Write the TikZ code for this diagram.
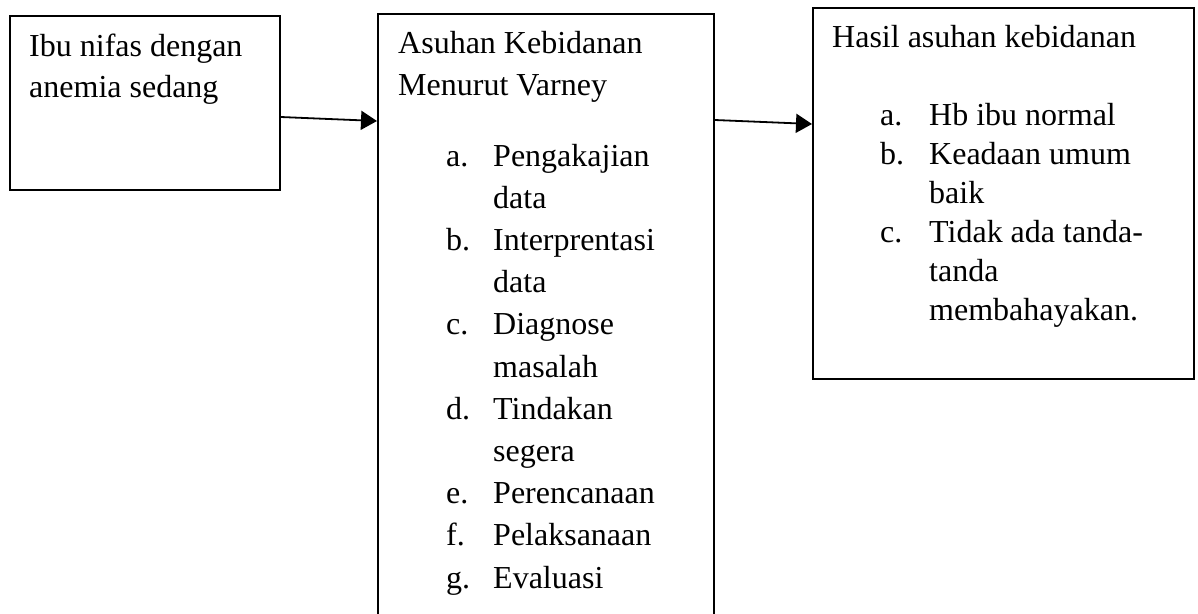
\documentclass[tikz,border=0pt]{standalone}
\usepackage{fontspec}
\setmainfont{Liberation Serif}
\usetikzlibrary{arrows.meta}
\tikzset{
  box/.style={draw=black, line width=1.8pt, rectangle, inner sep=0pt, anchor=north west},
  txt/.style={anchor=base west, inner sep=0pt, font=\fontsize{32}{40}\selectfont},
  conn/.style={line width=1.8pt, -{Triangle[length=16pt,width=19pt]}}
}
\begin{document}
\begin{tikzpicture}[x=1pt,y=-1pt]
\useasboundingbox (0,0) rectangle (1198,613);
% boxes
\node[box, minimum width=270pt, minimum height=174pt] (b1) at (9,15) {};
\node[box, minimum width=336pt, minimum height=640pt] (b2) at (377,13) {};
\node[box, minimum width=381pt, minimum height=371pt] (b3) at (812,7) {};
% box 1 text
\node[txt] (t1a) at (29,56) {Ibu nifas dengan};
\node[txt] (t1b) at (29,97) {anemia sedang};
% box 2 text
\node[txt] (t2a) at (398,53) {Asuhan Kebidanan};
\node[txt] (t2b) at (398,95) {Menurut Varney};
\node[txt] (l2a) at (446,166) {a.};
\node[txt] (i2a) at (493,166) {Pengakajian};
\node[txt] (i2a2) at (493,208.2) {data};
\node[txt] (l2b) at (446,250.4) {b.};
\node[txt] (i2b) at (493,250.4) {Interprentasi};
\node[txt] (i2b2) at (493,292.6) {data};
\node[txt] (l2c) at (446,334.8) {c.};
\node[txt] (i2c) at (493,334.8) {Diagnose};
\node[txt] (i2c2) at (493,377) {masalah};
\node[txt] (l2d) at (446,419.2) {d.};
\node[txt] (i2d) at (493,419.2) {Tindakan};
\node[txt] (i2d2) at (493,461.4) {segera};
\node[txt] (l2e) at (446,503.6) {e.};
\node[txt] (i2e) at (493,503.6) {Perencanaan};
\node[txt] (l2f) at (446,545.8) {f.};
\node[txt] (i2f) at (493,545.8) {Pelaksanaan};
\node[txt] (l2g) at (446,588) {g.};
\node[txt] (i2g) at (493,588) {Evaluasi};
% box 3 text
\node[txt] (t3a) at (832,47) {Hasil asuhan kebidanan};
\node[txt] (l3a) at (880,125) {a.};
\node[txt] (i3a) at (929,125) {Hb ibu normal};
\node[txt] (l3b) at (880,164) {b.};
\node[txt] (i3b) at (929,164) {Keadaan umum};
\node[txt] (i3b2) at (929,203) {baik};
\node[txt] (l3c) at (880,242) {c.};
\node[txt] (i3c) at (929,242) {Tidak ada tanda-};
\node[txt] (i3c2) at (929,281) {tanda};
\node[txt] (i3c3) at (929,320) {membahayakan.};
% connectors
\draw[conn] ([yshift=-102pt]b1.north east) -- ([yshift=-108pt]b2.north west);
\draw[conn] ([yshift=-107pt]b2.north east) -- ([yshift=-117pt]b3.north west);
\end{tikzpicture}
\end{document}
